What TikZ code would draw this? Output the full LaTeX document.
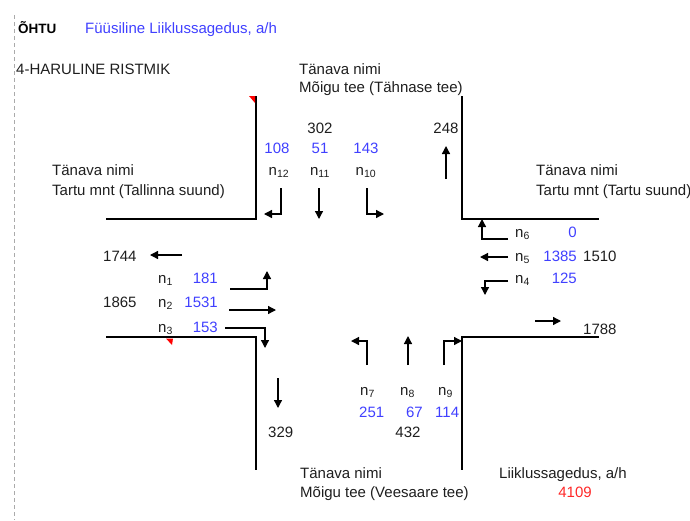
\documentclass[tikz,border=0pt]{standalone}
\usepackage{fontspec}
\setmainfont{Liberation Sans}
\usetikzlibrary{arrows.meta}
\definecolor{numblue}{RGB}{64,64,255}
\definecolor{numred}{RGB}{255,40,40}
\definecolor{txtgray}{RGB}{30,30,30}
\definecolor{dashgray}{RGB}{170,170,170}
\tikzset{
  txt/.style={inner sep=0pt, anchor=base west, text=txtgray, font=\fontsize{15}{18}\selectfont},
  txtr/.style={txt, anchor=base east},
  txtc/.style={txt, anchor=base},
  bl/.style={text=numblue},
  road/.style={line width=2.4pt, line cap=rect, black},
  flow/.style={line width=1.3pt, -{Triangle[length=8pt,width=8pt]}},
  redmark/.style={fill=red, draw=none},
}
\newcommand{\nsub}[1]{n\textsubscript{#1}}
\begin{document}
\begin{tikzpicture}[x=1pt,y=-1pt]
\useasboundingbox (0,0) rectangle (690,520);
% dashed margin
\draw[dashgray, line width=1pt, dash pattern=on 4pt off 3pt] (14,15) -- (14,520);
% headings
\node[txt, font=\fontsize{13.5}{15}\selectfont\bfseries, text=black] (ohtu) at (18,33) {ÕHTU};
\node[txt, bl] (fys) at (85,33) {Füüsiline Liiklussagedus, a/h};
\node[txt] (rist) at (16,74) {4-HARULINE RISTMIK};
% top street
\node[txt] (tn1) at (299,74) {Tänava nimi};
\node[txt] (tn1b) at (299,92) {Mõigu tee (Tähnase tee)};
% left street
\node[txt] (tn2) at (52,175) {Tänava nimi};
\node[txt] (tn2b) at (52,195) {Tartu mnt (Tallinna suund)};
% right street
\node[txt] (tn3) at (536,175) {Tänava nimi};
\node[txt] (tn3b) at (536,195) {Tartu mnt (Tartu suund)};
% bottom street
\node[txt] (tn4) at (300,478) {Tänava nimi};
\node[txt] (tn4b) at (300,497) {Mõigu tee (Veesaare tee)};
\node[txt] (lsg) at (499,478) {Liiklussagedus, a/h};
\node[txtc, text=numred] (tot) at (575,497) {4109};
% roads
\coordinate (nwT) at (256,97); \coordinate (nwC) at (256,219); \coordinate (nwL) at (107,219);
\coordinate (neT) at (462,97); \coordinate (neC) at (462,219); \coordinate (neR) at (598,219);
\coordinate (swL) at (107,337); \coordinate (swC) at (256,337); \coordinate (swB) at (256,469);
\coordinate (seR) at (598,337); \coordinate (seC) at (462,337); \coordinate (seB) at (462,469);
\draw[road] (nwT) -- (nwC) -- (nwL);
\draw[road] (neT) -- (neC) -- (neR);
\draw[road] (swL) -- (swC) -- (swB);
\draw[road] (seR) -- (seC) -- (seB);
\fill[redmark] (249,96) -- (255,96) -- (255,103) -- cycle;
\fill[redmark] (166,338.5) -- (173,338.5) -- (172,345) -- cycle;
% top approach
\node[txtc] (v302) at (320,133) {302};
\node[txtc, bl] (v108) at (277,153) {108};
\node[txtc, bl] (v51) at (320,153) {51};
\node[txtc, bl] (v143) at (366,153) {143};
\node[txtc] (n12) at (279,175) {\nsub{12}};
\node[txtc] (n11) at (320,175) {\nsub{11}};
\node[txtc] (n10) at (366,175) {\nsub{10}};
\node[txtc] (v248) at (446,133) {248};
\coordinate (a12s) at (281,188); \coordinate (a12c) at (281,214); \coordinate (a12e) at (264,214);
\draw[flow] (a12s) -- (a12c) -- (a12e);
\coordinate (a11s) at (319,188); \coordinate (a11e) at (319,219);
\draw[flow] (a11s) -- (a11e);
\coordinate (a10s) at (367,188); \coordinate (a10c) at (367,214); \coordinate (a10e) at (384,214);
\draw[flow] (a10s) -- (a10c) -- (a10e);
\coordinate (u248s) at (446,179); \coordinate (u248e) at (446,146);
\draw[flow] (u248s) -- (u248e);
% right approach
\node[txt] (n6) at (515,237) {\nsub{6}};
\node[txtr, bl] (v0) at (577,237) {0};
\node[txt] (n5) at (515,261) {\nsub{5}};
\node[txtr, bl] (v1385) at (577,261) {1385};
\node[txt] (v1510) at (583,261) {1510};
\node[txt] (n4) at (515,283) {\nsub{4}};
\node[txtr, bl] (v125) at (577,283) {125};
\coordinate (a6s) at (508,239); \coordinate (a6c) at (482,239); \coordinate (a6e) at (482,219);
\draw[flow] (a6s) -- (a6c) -- (a6e);
\coordinate (a5s) at (508,257); \coordinate (a5e) at (480,257);
\draw[flow] (a5s) -- (a5e);
\coordinate (a4s) at (508,281); \coordinate (a4c) at (485,281); \coordinate (a4e) at (485,295);
\draw[flow] (a4s) -- (a4c) -- (a4e);
\node[txt] (v1788) at (583,334) {1788};
\coordinate (o1788s) at (535,321); \coordinate (o1788e) at (561,321);
\draw[flow] (o1788s) -- (o1788e);
% left approach
\node[txt] (v1744) at (103,261) {1744};
\coordinate (o1744s) at (182,255); \coordinate (o1744e) at (150,255);
\draw[flow] (o1744s) -- (o1744e);
\node[txt] (n1) at (158,283) {\nsub{1}};
\node[txtr, bl] (v181) at (218,283) {181};
\node[txt] (n2) at (158,307) {\nsub{2}};
\node[txtr, bl] (v1531) at (218,307) {1531};
\node[txt] (v1865) at (103,307) {1865};
\node[txt] (n3) at (158,332) {\nsub{3}};
\node[txtr, bl] (v153) at (218,332) {153};
\coordinate (a1s) at (230,289); \coordinate (a1c) at (267,289); \coordinate (a1e) at (267,271);
\draw[flow] (a1s) -- (a1c) -- (a1e);
\coordinate (a2s) at (229,310); \coordinate (a2e) at (276,310);
\draw[flow] (a2s) -- (a2e);
\coordinate (a3s) at (225,328); \coordinate (a3c) at (265,328); \coordinate (a3e) at (265,348);
\draw[flow] (a3s) -- (a3c) -- (a3e);
% bottom approach
\coordinate (o329s) at (278,378); \coordinate (o329e) at (278,408);
\draw[flow] (o329s) -- (o329e);
\node[txt] (v329) at (268,437) {329};
\coordinate (a7s) at (367,365); \coordinate (a7c) at (367,341); \coordinate (a7e) at (351,341);
\draw[flow] (a7s) -- (a7c) -- (a7e);
\coordinate (a8s) at (408,365); \coordinate (a8e) at (408,336);
\draw[flow] (a8s) -- (a8e);
\coordinate (a9s) at (444,365); \coordinate (a9c) at (444,341); \coordinate (a9e) at (462,341);
\draw[flow] (a9s) -- (a9c) -- (a9e);
\node[txt] (n7) at (360,395) {\nsub{7}};
\node[txt] (n8) at (400,395) {\nsub{8}};
\node[txt] (n9) at (438,395) {\nsub{9}};
\node[txt, bl] (v251) at (359,417) {251};
\node[txtr, bl] (v67) at (423,417) {67};
\node[txt, bl] (v114) at (435,417) {114};
\node[txtc] (v432) at (408,437) {432};
\end{tikzpicture}
\end{document}
